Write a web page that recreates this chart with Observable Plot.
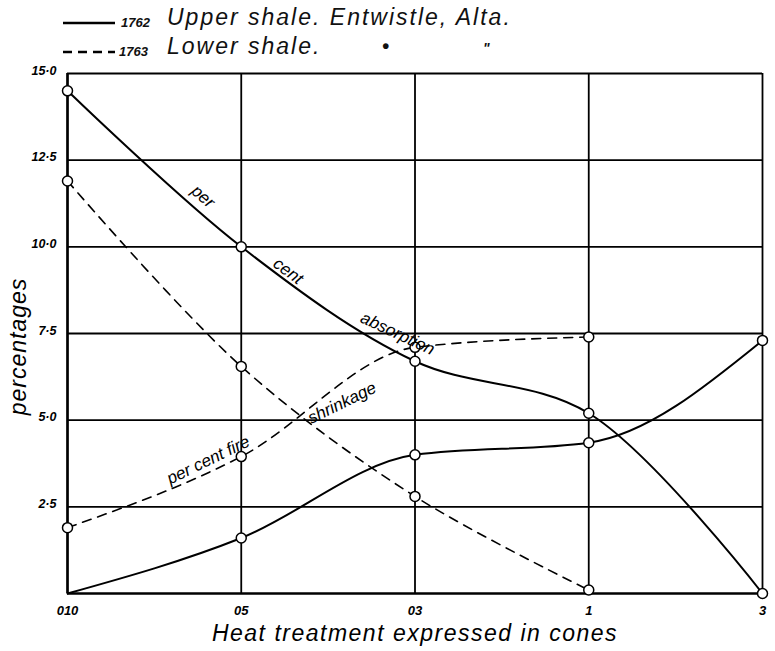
<!DOCTYPE html>
<html><head><meta charset="utf-8">
<script src="https://cdn.jsdelivr.net/npm/d3@7"></script>
<script src="https://cdn.jsdelivr.net/npm/@observablehq/plot@0.6"></script>
<style>
body{margin:0;background:#fff;font-family:"Liberation Sans",Arial,sans-serif;}
#legend{position:relative;height:60px;width:775px;font-style:italic;color:#111;}
#legend .num{position:absolute;font-size:13px;font-weight:bold;line-height:1;}
#legend .lab{position:absolute;font-size:23px;letter-spacing:2px;line-height:1;}
#legend svg{position:absolute;left:0;top:0;}
#chart svg{display:block;}
</style></head><body>
<div id="legend"></div>
<div id="chart"></div>
<script>
// categories and tick labels
const cones = ["010", "05", "03", "1", "3"];
const yTicks = [2.5, 5, 7.5, 10, 12.5, 15];
// series values (per cent)
const upperAbsorption = [14.5, 10.0, 6.7, 5.2, 0.0];   // 1762 solid
const upperShrinkage  = [0.0, 1.6, 4.0, 4.35, 7.3];    // 1762 solid
const lowerAbsorption = [11.9, 6.55, 2.8, 0.1];        // 1763 dashed
const lowerShrinkage  = [1.9, 3.95, 7.1, 7.4];         // 1763 dashed
const legendNums = ["1762", "1763"];
const legendLabels = ["Upper shale. Entwistle, Alta.", "Lower shale."];
const xTitle = "Heat treatment expressed in cones";
const yTitle = "percentages";
const notes = [
  {text: "per", i: 0.78, v: 11.45, rotate: 41},
  {text: "cent", i: 1.27, v: 9.3, rotate: 37},
  {text: "absorption", i: 1.9, v: 7.5, rotate: 25},
  {text: "shrinkage", i: 1.58, v: 5.5, rotate: -26},
  {text: "per cent fire", i: 0.81, v: 3.85, rotate: -26}
];

// legend (HTML)
const leg = document.getElementById("legend");
leg.innerHTML = `
<svg width="775" height="60">
  <line x1="63" x2="115" y1="23" y2="23" stroke="#000" stroke-width="2.5"/>
  <line x1="63" x2="115" y1="52" y2="52" stroke="#000" stroke-width="2.5" stroke-dasharray="9,6"/>
</svg>
<span class="num" style="left:121px;top:16px">${legendNums[0]}</span>
<span class="lab" style="left:167px;top:6px">${legendLabels[0]}</span>
<span class="num" style="left:119px;top:45px">${legendNums[1]}</span>
<span class="lab" style="left:167px;top:35px">${legendLabels[1]}</span>
<span class="lab" style="left:382px;top:36px;font-weight:bold;font-size:20px">•</span>
<span class="lab" style="left:483px;top:41px;font-size:14px;font-weight:bold">"</span>`;

function rows(vals, series, kind) {
  return vals.map((v, i) => ({i, v, series, kind}));
}
const data = [
  ...rows(upperAbsorption, "1762", "absorption"),
  ...rows(upperShrinkage, "1762", "shrinkage"),
  ...rows(lowerAbsorption, "1763", "absorption"),
  ...rows(lowerShrinkage, "1763", "shrinkage")
];
const pick = (s, k) => data.filter(d => d.series === s && d.kind === k);
const circles = data.filter(d => !(d.series === "1762" && d.kind === "shrinkage" && d.i === 0));
const idx = cones.map((c, i) => i);
const fmtY = d => d.toFixed(1).replace(".", "·");

const chart = Plot.plot({
  width: 775,
  height: 591,
  marginTop: 13,
  marginBottom: 58,
  marginLeft: 67,
  marginRight: 13,
  style: {background: "#fff", color: "#000", fontFamily: "Liberation Sans, Arial, sans-serif"},
  x: {type: "linear", domain: [0, 4]},
  y: {type: "linear", domain: [0, 15]},
  marks: [
    Plot.ruleY(yTicks, {stroke: "#000", strokeWidth: 1.8}),
    Plot.ruleX(idx, {stroke: "#000", strokeWidth: 1.8}),
    Plot.ruleY([0], {stroke: "#000", strokeWidth: 2.5}),
    Plot.ruleX([0], {stroke: "#000", strokeWidth: 2.5}),
    Plot.axisY(yTicks, {tickSize: 0, tickPadding: 11, tickFormat: fmtY, fontSize: 12.5, fontWeight: "bold", fontStyle: "italic", dy: -3, label: null}),
    Plot.axisX(idx, {tickSize: 0, tickPadding: 12, tickFormat: i => cones[i], fontSize: 13, fontWeight: "bold", fontStyle: "italic", label: null}),
    Plot.line(pick("1762", "absorption"), {x: "i", y: "v", curve: "catmull-rom", stroke: "#000", strokeWidth: 2}),
    Plot.line(pick("1762", "shrinkage"), {x: "i", y: "v", curve: "monotone-x", stroke: "#000", strokeWidth: 2}),
    Plot.line(pick("1763", "absorption"), {x: "i", y: "v", curve: "catmull-rom", stroke: "#000", strokeWidth: 1.6, strokeDasharray: "9,7"}),
    Plot.line(pick("1763", "shrinkage"), {x: "i", y: "v", curve: "monotone-x", stroke: "#000", strokeWidth: 1.6, strokeDasharray: "9,7"}),
    Plot.dot(circles, {x: "i", y: "v", r: 5, fill: "#fff", stroke: "#000", strokeWidth: 1.5}),
    Plot.text(notes, {x: "i", y: "v", text: "text", rotate: "rotate", fontSize: 17, fontStyle: "italic", fill: "#000"}),
    Plot.text([yTitle], {frameAnchor: "left", dx: -49, dy: 13, rotate: -90, textAnchor: "middle", fontSize: 23, fontStyle: "italic", fill: "#000"}),
    Plot.text([xTitle], {frameAnchor: "bottom", dy: 40, lineAnchor: "middle", fontSize: 23, fontStyle: "italic", fill: "#000"})
  ]
});
// widen the hand-lettered titles a little
d3.select(chart).selectAll("text").filter(function() { return this.textContent === xTitle; }).style("letter-spacing", "1.5px");
d3.select(chart).selectAll("text").filter(function() { return this.textContent === yTitle; }).style("letter-spacing", "1px");
document.getElementById("chart").appendChild(chart);
</script>
</body></html>
